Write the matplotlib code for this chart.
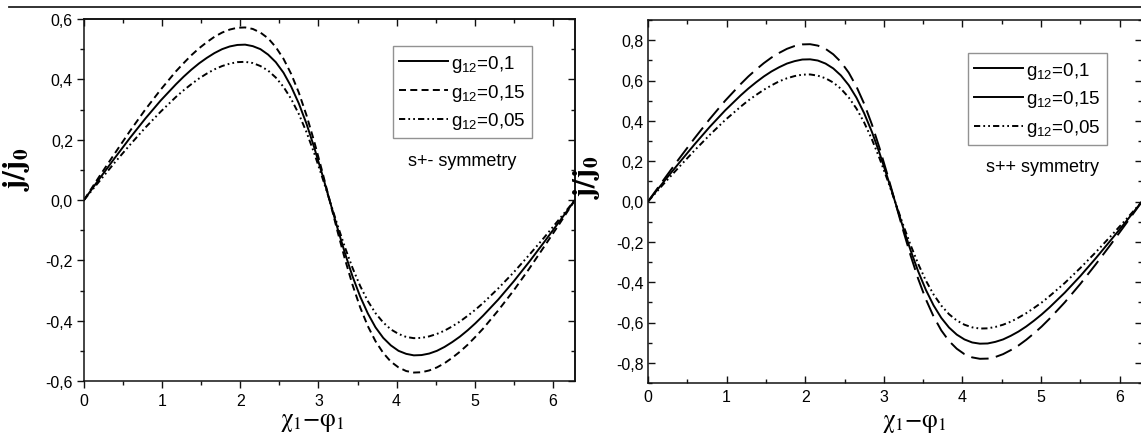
import matplotlib
matplotlib.use("Agg")
import matplotlib.pyplot as plt
from matplotlib.ticker import MultipleLocator, FuncFormatter, NullFormatter
from matplotlib.lines import Line2D

plt.rcParams['font.family'] = ['Liberation Sans', 'DejaVu Sans']
plt.rcParams['mathtext.fontset'] = 'custom'
plt.rcParams['mathtext.rm'] = 'Liberation Sans'
plt.rcParams['mathtext.it'] = 'Liberation Sans:italic'
plt.rcParams['mathtext.bf'] = 'Liberation Sans:bold'

# ---------------- data ----------------
phase = [0.000, 0.196, 0.393, 0.589, 0.785, 0.982, 1.178, 1.276, 1.374, 1.473, 1.571,
         1.669, 1.767, 1.865, 1.963, 2.062, 2.160, 2.258, 2.356, 2.454, 2.553, 2.651,
         2.749, 2.847, 2.945, 3.043, 3.142, 3.240, 3.338, 3.436, 3.534, 3.632, 3.730,
         3.829, 3.927, 4.025, 4.123, 4.221, 4.320, 4.418, 4.516, 4.614, 4.712, 4.810,
         4.909, 5.007, 5.105, 5.301, 5.498, 5.694, 5.890, 6.087, 6.283]

# s+- symmetry
spm_g010 = [0.000, 0.070, 0.139, 0.206, 0.270, 0.330, 0.384, 0.409, 0.432, 0.453, 0.471,
            0.487, 0.500, 0.509, 0.514, 0.515, 0.510, 0.500, 0.482, 0.457, 0.422, 0.376,
            0.320, 0.253, 0.175, 0.090, 0.000, -0.090, -0.175, -0.253, -0.320, -0.376,
            -0.422, -0.457, -0.482, -0.500, -0.510, -0.515, -0.514, -0.509, -0.500, -0.487,
            -0.471, -0.453, -0.432, -0.409, -0.384, -0.330, -0.270, -0.206, -0.139, -0.070, 0.000]
spm_g015 = [0.000, 0.078, 0.154, 0.229, 0.300, 0.366, 0.427, 0.454, 0.480, 0.503, 0.523,
            0.541, 0.555, 0.565, 0.571, 0.572, 0.567, 0.555, 0.536, 0.507, 0.468, 0.418,
            0.356, 0.281, 0.195, 0.100, 0.000, -0.100, -0.195, -0.281, -0.356, -0.418,
            -0.468, -0.507, -0.536, -0.555, -0.567, -0.572, -0.571, -0.565, -0.555, -0.541,
            -0.523, -0.503, -0.480, -0.454, -0.427, -0.366, -0.300, -0.229, -0.154, -0.078, 0.000]
spm_g005 = [0.000, 0.062, 0.124, 0.183, 0.240, 0.293, 0.342, 0.364, 0.384, 0.403, 0.419,
            0.433, 0.444, 0.452, 0.457, 0.458, 0.454, 0.444, 0.429, 0.406, 0.375, 0.335,
            0.285, 0.225, 0.156, 0.080, 0.000, -0.080, -0.156, -0.225, -0.285, -0.335,
            -0.375, -0.406, -0.429, -0.444, -0.454, -0.458, -0.457, -0.452, -0.444, -0.433,
            -0.419, -0.403, -0.384, -0.364, -0.342, -0.293, -0.240, -0.183, -0.124, -0.062, 0.000]

# s++ symmetry
spp_g010 = [0.000, 0.096, 0.190, 0.282, 0.370, 0.452, 0.526, 0.560, 0.591, 0.620, 0.645,
            0.666, 0.684, 0.696, 0.704, 0.705, 0.699, 0.684, 0.660, 0.625, 0.577, 0.515,
            0.438, 0.346, 0.240, 0.123, 0.000, -0.123, -0.240, -0.346, -0.438, -0.515,
            -0.577, -0.625, -0.660, -0.684, -0.699, -0.705, -0.704, -0.696, -0.684, -0.666,
            -0.645, -0.620, -0.591, -0.560, -0.526, -0.452, -0.370, -0.282, -0.190, -0.096, 0.000]
spp_g015 = [0.000, 0.106, 0.211, 0.312, 0.409, 0.500, 0.582, 0.620, 0.654, 0.686, 0.714,
            0.737, 0.757, 0.771, 0.779, 0.780, 0.773, 0.757, 0.730, 0.692, 0.639, 0.570,
            0.485, 0.383, 0.265, 0.136, 0.000, -0.136, -0.265, -0.383, -0.485, -0.570,
            -0.639, -0.692, -0.730, -0.757, -0.773, -0.780, -0.779, -0.771, -0.757, -0.737,
            -0.714, -0.686, -0.654, -0.620, -0.582, -0.500, -0.409, -0.312, -0.211, -0.106, 0.000]
spp_g005 = [0.000, 0.086, 0.170, 0.252, 0.330, 0.404, 0.470, 0.501, 0.528, 0.554, 0.576,
            0.596, 0.611, 0.622, 0.629, 0.630, 0.624, 0.611, 0.590, 0.559, 0.516, 0.461,
            0.392, 0.309, 0.214, 0.110, 0.000, -0.110, -0.214, -0.309, -0.392, -0.461,
            -0.516, -0.559, -0.590, -0.611, -0.624, -0.630, -0.629, -0.622, -0.611, -0.596,
            -0.576, -0.554, -0.528, -0.501, -0.470, -0.404, -0.330, -0.252, -0.170, -0.086, 0.000]

legend_labels = [r'g$_{12}$=0,1', r'g$_{12}$=0,15', r'g$_{12}$=0,05']
panel_notes = ['s+- symmetry', 's++ symmetry']
x_ticks = [0, 1, 2, 3, 4, 5, 6]

# ---------------- figure ----------------
fig = plt.figure(figsize=(11.41, 4.35), dpi=100)
axL = fig.add_axes([84/1141, 53/435, 491/1141, 362/435])
axR = fig.add_axes([648/1141, 51/435, 494/1141, 363/435])

# page rule at top
fig.add_artist(Line2D([9/1141, 1.0], [1 - 8/435, 1 - 8/435], color='#222222', lw=1.3,
                      transform=fig.transFigure))

LW = 1.4
short_dash = (0, (3.6, 2.2))
long_dash = (0, (9.0, 3.8))
dash_dot_dot = (0, (3.2, 1.6, 0.9, 1.6, 0.9, 1.6))

comma = FuncFormatter(lambda v, p: ('0,0' if abs(v) < 1e-9 else f'{v:.1f}'.replace('.', ',')))
intfmt = FuncFormatter(lambda v, p: f'{int(round(v))}')

def style_axis(ax, ylim, outer):
    ax.set_xlim(0, 6.2832)
    ax.set_ylim(*ylim)
    ax.set_xticks(x_ticks)
    ax.xaxis.set_minor_locator(MultipleLocator(0.5))
    ax.yaxis.set_major_locator(MultipleLocator(0.2))
    ax.yaxis.set_minor_locator(MultipleLocator(0.1))
    ax.yaxis.set_major_formatter(comma)
    ax.xaxis.set_major_formatter(intfmt)
    for s in ax.spines.values():
        s.set_linewidth(1.1)
        s.set_color('#111111')
    if outer:
        ax.tick_params(which='both', direction='out', top=False, right=False,
                       labelsize=11.5, width=1.0, color='#111111')
        ax.tick_params(which='major', length=5)
        ax.tick_params(which='minor', length=3)
        sx = ax.secondary_xaxis('top')
        sy = ax.secondary_yaxis('right')
        sx.set_xticks(x_ticks)
        sx.xaxis.set_minor_locator(MultipleLocator(0.5))
        sy.yaxis.set_major_locator(MultipleLocator(0.2))
        sy.yaxis.set_minor_locator(MultipleLocator(0.1))
        for sa in (sx, sy):
            sa.tick_params(which='both', direction='in', labelsize=0, width=1.0, color='#111111')
            sa.tick_params(which='major', length=5)
            sa.tick_params(which='minor', length=3)
            for s in sa.spines.values():
                s.set_linewidth(1.1)
        sx.xaxis.set_major_formatter(NullFormatter())
        sy.yaxis.set_major_formatter(NullFormatter())
    else:
        ax.tick_params(which='both', direction='in', top=True, right=True,
                       labelsize=11.5, width=1.0, color='#111111')
        ax.tick_params(which='major', length=5)
        ax.tick_params(which='minor', length=3)
    ax.tick_params(axis='x', pad=4)
    ax.tick_params(axis='y', pad=3)

# left panel
axL.plot(phase, spm_g010, color='black', lw=LW, linestyle='-')
axL.plot(phase, spm_g015, color='black', lw=LW, linestyle=short_dash)
axL.plot(phase, spm_g005, color='black', lw=LW, linestyle=dash_dot_dot)
style_axis(axL, (-0.6, 0.6), True)

# right panel
axR.plot(phase, spp_g010, color='black', lw=LW, linestyle='-')
axR.plot(phase, spp_g015, color='black', lw=LW, linestyle=long_dash)
axR.plot(phase, spp_g005, color='black', lw=LW, linestyle=dash_dot_dot)
style_axis(axR, (-0.9, 0.9), False)

# legends
hL = [Line2D([], [], color='black', lw=LW, linestyle='-'),
      Line2D([], [], color='black', lw=LW, linestyle=short_dash),
      Line2D([], [], color='black', lw=LW, linestyle=dash_dot_dot)]
hR = [Line2D([], [], color='black', lw=LW, linestyle='-'),
      Line2D([], [], color='black', lw=LW, linestyle='-'),
      Line2D([], [], color='black', lw=LW, linestyle=dash_dot_dot)]
for ax, handles, anchor in ((axL, hL, (0.912, 0.925)), (axR, hR, (0.929, 0.909))):
    leg = ax.legend(handles, legend_labels, loc='upper right', bbox_to_anchor=anchor,
                    fontsize=13.5, frameon=True, fancybox=False, handlelength=2.6,
                    handletextpad=0.15, borderpad=0.35, labelspacing=0.42, borderaxespad=0.0)
    leg.get_frame().set_edgecolor('#777777')
    leg.get_frame().set_linewidth(1.0)

axL.text((462 - 84) / 491, (382 - 162) / 362, panel_notes[0], transform=axL.transAxes,
         ha='center', va='center', fontsize=13)
axR.text((1043 - 648) / 494, (384 - 168) / 363, panel_notes[1], transform=axR.transAxes,
         ha='center', va='center', fontsize=13)

# axis labels
for ax, ylc, xlc in ((axL, (-0.105, 0.586), (0.466, -0.078)), (axR, (-0.093, 0.57), (0.54, -0.074))):
    ax.set_ylabel(r'$\mathbf{j/j_0}$', fontsize=22, math_fontfamily='stix')
    ax.yaxis.set_label_coords(*ylc)
    ax.set_xlabel(r'$\mathrm{\chi_1{-}\varphi_1}$', fontsize=18, math_fontfamily='stix')
    ax.xaxis.set_label_coords(*xlc)

fig.savefig('out.png', dpi=100)
